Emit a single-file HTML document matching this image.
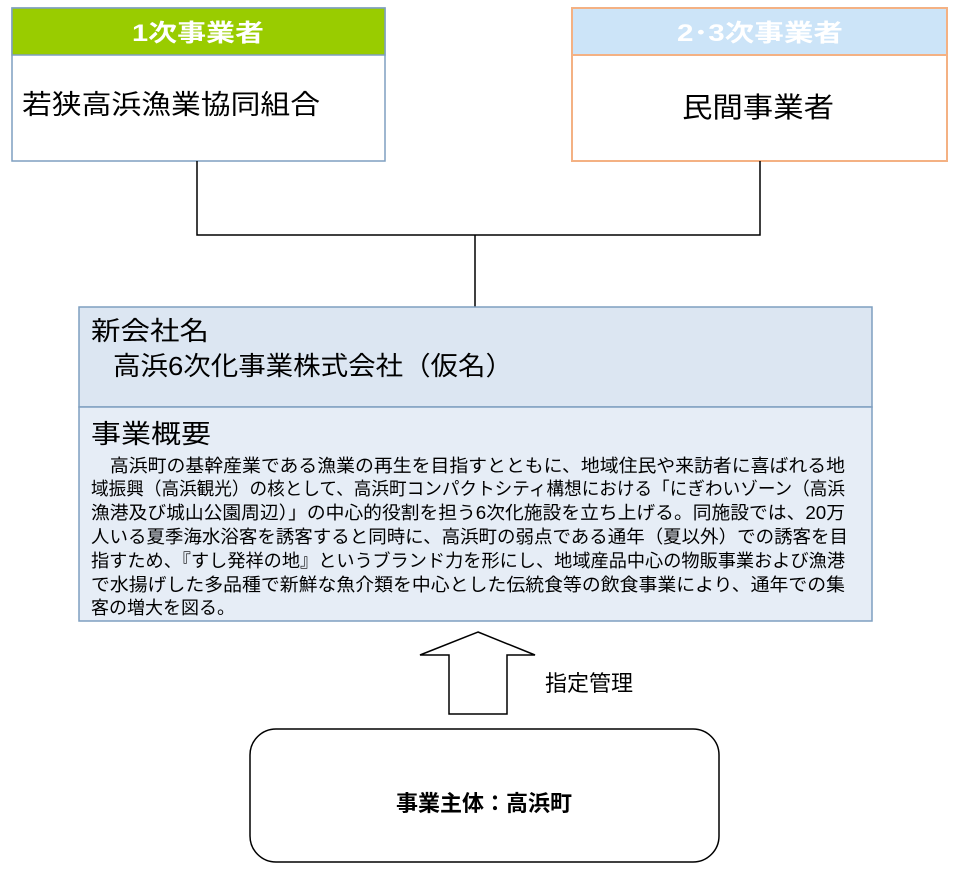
<!DOCTYPE html>
<html><head><meta charset="utf-8"><style>
html,body{margin:0;padding:0;background:#fff;}
svg text{font-family:"Liberation Sans","Noto Sans CJK JP",sans-serif;}
</style></head><body>
<svg width="960" height="864" viewBox="0 0 960 864" xmlns="http://www.w3.org/2000/svg">
<rect x="12" y="8" width="373" height="153" fill="#fff" stroke="#7f9fc0" stroke-width="1.5"/>
<rect x="12" y="8" width="373" height="47" fill="#99cc00" stroke="#7f9fc0" stroke-width="1.5"/>
<text x="198" y="41" font-size="24" font-weight="bold" fill="#fff" text-anchor="middle" textLength="132" lengthAdjust="spacingAndGlyphs">1次事業者</text>
<text x="22" y="114" font-size="27" fill="#000" textLength="298" lengthAdjust="spacingAndGlyphs">若狭高浜漁業協同組合</text>
<rect x="572" y="8" width="375" height="153" fill="#fff" stroke="#f4b183" stroke-width="2"/>
<rect x="572" y="8" width="375" height="47" fill="#cce4f8" stroke="#f4b183" stroke-width="2"/>
<text x="760" y="41" font-size="24" font-weight="bold" fill="#fff" text-anchor="middle" textLength="166" lengthAdjust="spacingAndGlyphs">2･3次事業者</text>
<text x="758" y="117" font-size="28" fill="#000" text-anchor="middle" textLength="152" lengthAdjust="spacingAndGlyphs">民間事業者</text>
<path d="M197 161 V235 H760 V161 M475 235 V307" fill="none" stroke="#000" stroke-width="1.5"/>
<rect x="79" y="307" width="793" height="100" fill="#dce6f2" stroke="#7f9fc0" stroke-width="1.5"/>
<rect x="79" y="407" width="793" height="214" fill="#e6edf6" stroke="#7f9fc0" stroke-width="1.5"/>
<text x="91" y="340" font-size="26" fill="#000" textLength="118" lengthAdjust="spacingAndGlyphs">新会社名</text>
<text x="113" y="375" font-size="26" fill="#000" textLength="400" lengthAdjust="spacingAndGlyphs">高浜6次化事業株式会社（仮名）</text>
<text x="91" y="443" font-size="26" fill="#000" textLength="120" lengthAdjust="spacingAndGlyphs">事業概要</text>
<g font-size="18" fill="#000">
<text x="91" y="472" textLength="754" lengthAdjust="spacingAndGlyphs">　高浜町の基幹産業である漁業の再生を目指すとともに、地域住民や来訪者に喜ばれる地</text>
<text x="91" y="495" textLength="754" lengthAdjust="spacingAndGlyphs">域振興（高浜観光）の核として、高浜町コンパクトシティ構想における「にぎわいゾーン（高浜</text>
<text x="91" y="519" textLength="754" lengthAdjust="spacingAndGlyphs">漁港及び城山公園周辺）」の中心的役割を担う6次化施設を立ち上げる。同施設では、20万</text>
<text x="91" y="543" textLength="757" lengthAdjust="spacingAndGlyphs">人いる夏季海水浴客を誘客すると同時に、高浜町の弱点である通年（夏以外）での誘客を目</text>
<text x="91" y="567" textLength="754" lengthAdjust="spacingAndGlyphs">指すため、『すし発祥の地』というブランド力を形にし、地域産品中心の物販事業および漁港</text>
<text x="91" y="591" textLength="754" lengthAdjust="spacingAndGlyphs">で水揚げした多品種で新鮮な魚介類を中心とした伝統食等の飲食事業により、通年での集</text>
<text x="91" y="614" textLength="144" lengthAdjust="spacingAndGlyphs">客の増大を図る。</text>
</g>
<path d="M478 632 L535 655 L507 655 L507 714 L449 714 L449 655 L420 655 Z" fill="#fff" stroke="#000" stroke-width="1.5"/>
<text x="545" y="691" font-size="22" fill="#000">指定管理</text>
<rect x="250" y="729" width="469" height="133" rx="26" ry="26" fill="#fff" stroke="#000" stroke-width="1.5"/>
<text x="484" y="811" font-size="22" font-weight="bold" fill="#000" text-anchor="middle">事業主体：高浜町</text>
</svg>
</body></html>
